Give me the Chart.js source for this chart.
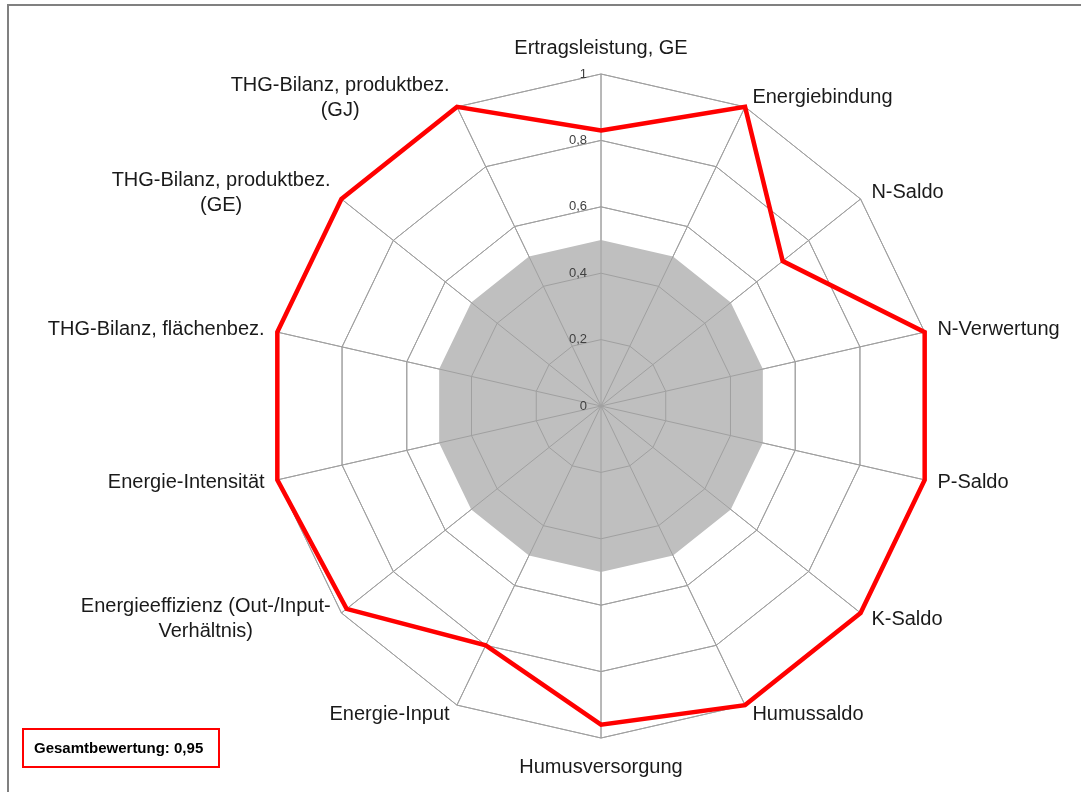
<!DOCTYPE html>
<html>
<head>
<meta charset="utf-8">
<script src="https://cdn.jsdelivr.net/npm/chart.js@4/dist/chart.umd.min.js"></script>
<style>
  html, body { margin: 0; padding: 0; background: #fff; overflow: hidden; }
  #wrap { position: relative; width: 1081px; height: 792px; }
  #frame { position: absolute; left: 7px; top: 4px; width: 1200px; height: 900px;
           border-top: 2px solid #808080; border-left: 2px solid #808080; }
  #total { position: absolute; left: 22px; top: 728px; width: 194px; height: 36px;
           border: 2px solid #ff0000; font-family: "Liberation Sans", Arial, sans-serif;
           font-weight: bold; font-size: 15px; color: #000; line-height: 36px;
           box-sizing: content-box; white-space: nowrap; }
  #total span { margin-left: 10px; }
  canvas { position: absolute; left: 0; top: 0; }
</style>
</head>
<body>
<div id="wrap">
  <canvas id="radar" width="1081" height="792"></canvas>
  <div id="frame"></div>
  <div id="total"><span>Gesamtbewertung: 0,95</span></div>
</div>
<script>
const categories = [
    "Ertragsleistung, GE",
    "Energiebindung",
    "N-Saldo",
    "N-Verwertung",
    "P-Saldo",
    "K-Saldo",
    "Humussaldo",
    "Humusversorgung",
    "Energie-Input",
    ["Energieeffizienz (Out-/Input-", "Verhältnis)"],
    "Energie-Intensität",
    "THG-Bilanz, flächenbez.",
    ["THG-Bilanz, produktbez.", "(GE)"],
    ["THG-Bilanz, produktbez.", "(GJ)"]
];
const scores = [0.83, 1, 0.7, 1, 1, 1, 1, 0.96, 0.8, 0.98, 1, 1, 1, 1];
const threshold = [0.5, 0.5, 0.5, 0.5, 0.5, 0.5, 0.5, 0.5, 0.5, 0.5, 0.5, 0.5, 0.5, 0.5];
const tickLabels = ["0", "0,2", "0,4", "0,6", "0,8", "1"];

const labelFont = '20px "Liberation Sans", Arial, sans-serif';
const tickFont = '13px "Liberation Sans", Arial, sans-serif';

// grid goes over the grey area but under the red line
const gridOverFill = {
    id: "gridOverFill",
    afterDatasetDraw(chart, args) {
        if (args.index === 1) {
            chart.scales.r.drawGrid(chart.chartArea);
        }
    }
};

// excel-like axis labels and tick numbers
const excelLabels = {
    id: "excelLabels",
    afterDraw(chart) {
        const ctx = chart.ctx;
        const scale = chart.scales.r;
        const r = scale.drawingArea;
        ctx.save();

        ctx.font = tickFont;
        ctx.fillStyle = "#404040";
        ctx.textAlign = "right";
        ctx.textBaseline = "middle";
        scale.ticks.forEach((t, i) => {
            const d = scale.getDistanceFromCenterForValue(t.value);
            ctx.fillText(tickLabels[i], scale.xCenter - 14, scale.yCenter - d);
        });

        ctx.font = labelFont;
        ctx.fillStyle = "#1a1a1a";
        const lineH = 25;
        categories.forEach((lab, i) => {
            const lines = Array.isArray(lab) ? lab : [lab];
            const p = scale.getPointPosition(i, r + 10);
            const dx = p.x - scale.xCenter;
            const dy = p.y - scale.yCenter;
            if (Math.abs(dx) < 1) {
                ctx.textAlign = "center";
                ctx.textBaseline = "alphabetic";
                const y = dy < 0 ? scale.yCenter - r - 20 : scale.yCenter + r + 35;
                ctx.fillText(lines[0], p.x, y);
                return;
            }
            ctx.textBaseline = "middle";
            // block width for centred multi-line labels
            let w = 0;
            lines.forEach(l => { w = Math.max(w, ctx.measureText(l).width); });
            const cx = dx > 0 ? p.x + 3 + w / 2 : p.x - 3 - w / 2;
            ctx.textAlign = "center";
            const y0 = p.y - (lines.length - 1) * lineH / 2;
            lines.forEach((l, k) => ctx.fillText(l, cx, y0 + k * lineH));
        });
        ctx.restore();
    }
};

const ctx = document.getElementById("radar").getContext("2d");
new Chart(ctx, {
    type: "radar",
    data: {
        labels: categories,
        datasets: [
            {
                label: "Bewertung",
                data: scores,
                borderColor: "#ff0000",
                borderWidth: 4.5,
                borderJoinStyle: "miter",
                fill: false,
                pointRadius: 0,
                tension: 0
            },
            {
                label: "Schwelle",
                data: threshold,
                borderWidth: 0,
                backgroundColor: "#bfbfbf",
                fill: "origin",
                pointRadius: 0,
                tension: 0
            }
        ]
    },
    options: {
        responsive: false,
        animation: false,
        layout: { padding: { left: 269, right: 148, top: 74, bottom: 54 } },
        plugins: { legend: { display: false }, tooltip: { enabled: false } },
        scales: {
            r: {
                min: 0,
                max: 1,
                ticks: { stepSize: 0.2, display: false },
                pointLabels: { display: false },
                grid: { color: "#a0a0a0", lineWidth: 1 },
                angleLines: { color: "#a0a0a0", lineWidth: 1 }
            }
        }
    },
    plugins: [gridOverFill, excelLabels]
});
</script>
</body>
</html>
